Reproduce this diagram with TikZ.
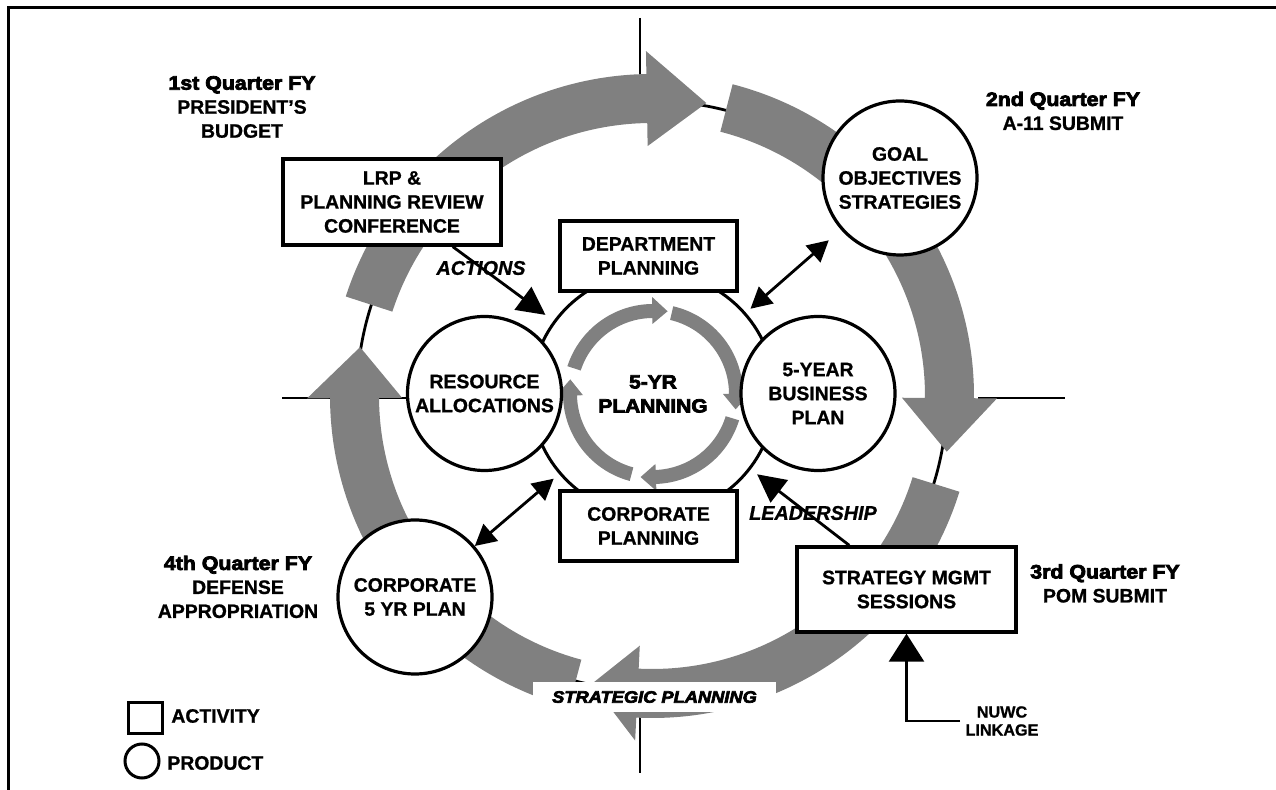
\documentclass[tikz,border=0pt]{standalone}
\usepackage{fontspec}
\setmainfont{Liberation Sans}[BoldFeatures={FakeBold=1},BoldItalicFeatures={FakeBold=1}]
\newfontfamily\heavy{Liberation Sans}[FakeBold=4,FakeStretch=1.1]
\usetikzlibrary{arrows.meta}
\definecolor{bandgray}{RGB}{128,128,128}
% #1 r_in, #2 r_out, #3 r_mid, #4 tail angle, #5 head base angle, #6 apex angle, #7 head r_in, #8 head r_out
\newcommand\cycarrow[8]{%
  \fill[bandgray] (#4:#2) arc[start angle=#4,end angle=#5,radius=#2] -- (#5:#8) -- (#6:#3) -- (#5:#7) -- (#5:#1) arc[start angle=#5,end angle=#4,radius=#1] -- cycle;}
\begin{document}
\begin{tikzpicture}[x=0.5pt,y=0.5pt,
  txt/.style={font=\bfseries\fontsize{9.7}{12}\selectfont,align=center,inner sep=1pt},
  boxnode/.style={txt,draw,line width=1.7pt,fill=white,inner sep=0pt},
  prodnode/.style={txt,draw,circle,line width=1.6pt,fill=white,minimum size=77pt,inner sep=0pt},
  quarter/.style={txt},
  ital/.style={font=\bfseries\itshape\fontsize{9.9}{12}\selectfont,inner sep=1pt},
  conn/.style={line width=1.4pt},
  bighead/.style={-{Triangle[length=14pt,width=14pt]}},
  dbl/.style={{Triangle[length=10.5pt,width=11pt]}-{Triangle[length=10.5pt,width=11pt]}},
  axisline/.style={line width=1.4pt}]
\useasboundingbox (0,0) rectangle (1276,-790);
% frame
\draw[line width=1.5pt] (8,-790) -- (8,-8) -- (1276,-8);
% quadrant lines
\draw[axisline] (640,-18) -- (640,-110);
\draw[axisline] (640,-700) -- (640,-773);
\draw[axisline] (282,-398) -- (420,-398);
\draw[axisline] (978,-398) -- (1065,-398);
% thin outer circle
\draw[line width=1.4pt] (652,-396) circle[radius=295];
% big grey cycle arrows
\begin{scope}[shift={(652,-396)}]
  \cycarrow{273}{322}{298}{162}{91}{79.5}{250}{345}
  \cycarrow{273}{322}{300}{75.5}{-0.4}{-10.7}{250}{345}
  \cycarrow{273}{322}{294}{-17.3}{-92.8}{-101.8}{250}{345}
  \cycarrow{273}{322}{296}{-105}{-179.6}{-189.5}{250}{345}
\end{scope}
% central planning circle
\node[circle,draw,line width=1.5pt,minimum size=122pt,inner sep=0pt,align=center,
      font=\heavy\bfseries\fontsize{9.5}{12}\selectfont] (plan) at (653,-394) {5-YR\\PLANNING};
\begin{scope}[shift={(653,-394)}]
  \cycarrow{76}{90}{84}{162}{90.5}{80}{70}{97}
  \cycarrow{76}{90}{84}{77}{0}{-10.5}{70}{97}
  \cycarrow{76}{90}{84}{-17}{-88}{-98.5}{70}{97}
  \cycarrow{76}{90}{84}{-105}{-179}{-190}{70}{97}
\end{scope}
% activities
\node[boxnode,minimum width=109pt,minimum height=43pt] (lrp) at (392,-202) {LRP \&\\PLANNING REVIEW\\CONFERENCE};
\node[boxnode,minimum width=88.5pt,minimum height=35pt] (dept) at (648.5,-256) {DEPARTMENT\\PLANNING};
\node[boxnode,minimum width=88.5pt,minimum height=35pt] (corp) at (648.5,-526) {CORPORATE\\PLANNING};
\node[boxnode,minimum width=109.5pt,minimum height=42.5pt] (strat) at (906.5,-589.5) {STRATEGY MGMT\\SESSIONS};
% products
\node[prodnode] (goal) at (900,-178) {GOAL\\OBJECTIVES\\STRATEGIES};
\node[prodnode] (res) at (484.5,-393.5) {RESOURCE\\ALLOCATIONS};
\node[prodnode] (biz) at (818,-393.5) {5-YEAR\\BUSINESS\\PLAN};
\node[prodnode] (corp5) at (415,-597) {CORPORATE\\5 YR PLAN};
% strategic planning label
\node[fill=white,minimum width=121.5pt,minimum height=15pt,inner sep=0pt,
      font=\heavy\bfseries\itshape\fontsize{8.3}{10}\selectfont] (stratlbl) at (654.5,-697) {STRATEGIC PLANNING};
% quarter labels
\node[quarter] (q1) at (242,-107) {{\heavy\bfseries 1st Quarter FY}\\PRESIDENT'S\\BUDGET};
\node[quarter] (q2) at (1063,-111) {{\heavy\bfseries 2nd Quarter FY}\\A-11 SUBMIT};
\node[quarter] (q3) at (1105,-583.5) {{\heavy\bfseries 3rd Quarter FY}\\POM SUBMIT};
\node[quarter] (q4) at (238,-587) {{\heavy\bfseries 4th Quarter FY}\\DEFENSE\\APPROPRIATION};
% connectors
\draw[conn,bighead,shorten >=5pt] (lrp) -- (plan);
\draw[conn,bighead,shorten >=4pt] (strat) -- (plan);
\draw[conn,dbl,shorten <=8pt,shorten >=3pt] (goal) -- (plan);
\draw[conn,dbl,shorten >=3.5pt] (corp5) -- (plan);
\node[ital] (act) at (481,-268) {ACTIONS};
\node[ital] (lead) at (813,-513) {LEADERSHIP};
\node[font=\bfseries\fontsize{8.1}{9}\selectfont,align=center,inner sep=2.5pt] (nuwc) at (1002,-721) {NUWC\\LINKAGE};
\draw[conn,-{Triangle[length=14pt,width=17.5pt]}] (nuwc.west) -| (strat.south);
% legend
\node[draw,line width=1.5pt,minimum width=17pt,minimum height=15.5pt,inner sep=0pt] (legbox) at (145,-718.5) {};
\node[txt,anchor=west] (legact) at (169,-716) {ACTIVITY};
\node[draw,circle,line width=1.5pt,minimum size=17pt,inner sep=0pt] (legcirc) at (142,-761) {};
\node[txt,anchor=west] (legprod) at (165,-763) {PRODUCT};
\end{tikzpicture}
\end{document}
